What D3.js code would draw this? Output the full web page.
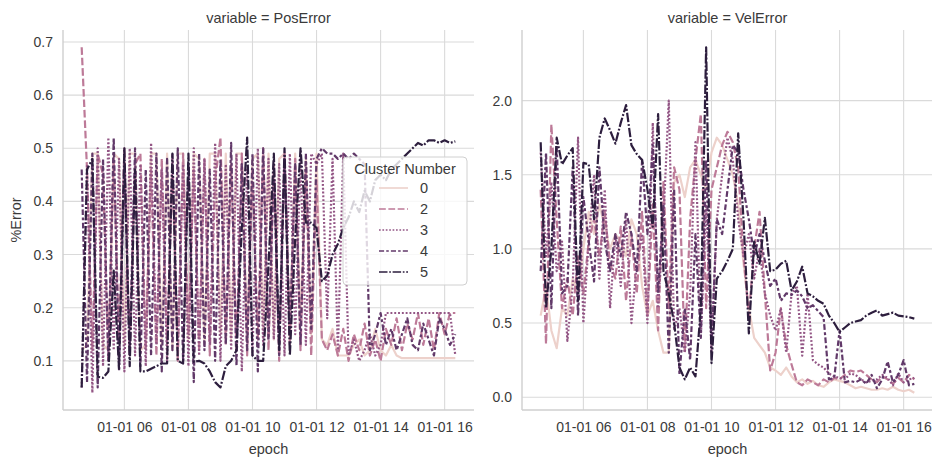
<!DOCTYPE html>
<html lang="en">
<head>
  <meta charset="utf-8">
  <script src="https://d3js.org/d3.v7.min.js"></script>
  <style>
    body { margin: 0; background: #fff; }
    text { font-family: "Liberation Sans", Arial, sans-serif; fill: #333; }
  </style>
</head>
<body>
  <div id="chart"></div>
  <script>
    var epochs = [
      "04:40","04:50","05:00","05:10","05:20","05:30","05:40","05:50","06:00","06:10",
      "06:20","06:30","06:40","06:50","07:00","07:10","07:20","07:30","07:40","07:50",
      "08:00","08:10","08:20","08:30","08:40","08:50","09:00","09:10","09:20","09:30",
      "09:40","09:50","10:00","10:10","10:20","10:30","10:40","10:50","11:00","11:10",
      "11:20","11:30","11:40","11:50","12:00","12:10","12:20","12:30","12:40","12:50",
      "13:00","13:10","13:20","13:30","13:40","13:50","14:00","14:10","14:20","14:30",
      "14:40","14:50","15:00","15:10","15:20","15:30","15:40","15:50","16:00","16:10",
      "16:20"
    ];

    var clusters = [0, 2, 3, 4, 5];
    var variables = ["PosError", "VelError"];

    // PosError per cluster
    var pos0 = [0.12,0.13,0.49,0.49,0.13,0.12,0.49,0.48,0.13,0.49,
                0.49,0.12,0.13,0.49,0.49,0.13,0.49,0.12,0.49,0.49,
                0.14,0.49,0.48,0.13,0.49,0.49,0.15,0.49,0.14,0.49,
                0.49,0.15,0.48,0.49,0.16,0.49,0.14,0.48,0.49,0.15,
                0.49,0.17,0.48,0.15,0.49,0.14,0.13,0.16,0.11,0.11,
                0.11,0.13,0.14,0.11,0.12,0.16,0.12,0.11,0.13,0.11,
                0.105,0.105,0.105,0.105,0.105,0.105,0.105,0.105,0.105,0.105,
                0.105];
    var pos2 = [0.69,0.46,0.12,0.49,0.45,0.10,0.48,0.14,0.50,0.11,
                0.47,0.49,0.12,0.46,0.11,0.48,0.13,0.47,0.10,0.49,
                0.15,0.46,0.12,0.48,0.11,0.44,0.52,0.13,0.47,0.12,
                0.49,0.11,0.46,0.14,0.50,0.12,0.47,0.10,0.49,0.13,
                0.48,0.12,0.46,0.11,0.44,0.14,0.12,0.15,0.11,0.16,
                0.10,0.15,0.12,0.17,0.11,0.14,0.10,0.16,0.13,0.18,
                0.12,0.17,0.14,0.19,0.13,0.18,0.12,0.19,0.15,0.19,
                0.19];
    var pos3 = [0.05,0.47,0.04,0.50,0.09,0.52,0.12,0.48,0.08,0.50,
                0.11,0.47,0.09,0.51,0.13,0.46,0.10,0.49,0.12,0.47,
                0.09,0.50,0.11,0.48,0.13,0.51,0.10,0.47,0.12,0.49,
                0.08,0.46,0.11,0.50,0.13,0.48,0.14,0.47,0.11,0.49,
                0.15,0.48,0.13,0.49,0.47,0.49,0.18,0.48,0.12,0.49,
                0.11,0.14,0.10,0.12,0.15,0.11,0.13,0.19,0.19,0.19,
                0.19,0.19,0.19,0.19,0.19,0.19,0.19,0.19,0.19,0.19,
                0.11];
    var pos4 = [0.46,0.06,0.49,0.05,0.48,0.10,0.52,0.08,0.47,0.12,
                0.50,0.09,0.46,0.11,0.49,0.08,0.48,0.12,0.50,0.10,
                0.47,0.06,0.49,0.12,0.46,0.10,0.48,0.13,0.51,0.09,
                0.47,0.12,0.49,0.08,0.50,0.14,0.46,0.11,0.48,0.15,
                0.47,0.13,0.49,0.16,0.48,0.50,0.49,0.49,0.48,0.49,
                0.48,0.49,0.48,0.47,0.12,0.15,0.19,0.13,0.16,0.12,
                0.15,0.18,0.13,0.12,0.17,0.14,0.11,0.18,0.16,0.13,
                0.15];
    var pos5 = [0.05,0.46,0.48,0.07,0.068,0.08,0.27,0.085,0.50,0.09,
                0.46,0.08,0.08,0.085,0.09,0.095,0.095,0.49,0.10,0.095,
                0.49,0.098,0.10,0.095,0.08,0.06,0.05,0.09,0.10,0.12,
                0.35,0.52,0.11,0.10,0.10,0.28,0.49,0.12,0.50,0.11,
                0.33,0.50,0.36,0.36,0.35,0.25,0.26,0.30,0.32,0.35,
                0.37,0.40,0.38,0.42,0.40,0.44,0.45,0.44,0.46,0.47,
                0.48,0.49,0.50,0.51,0.505,0.515,0.515,0.51,0.515,0.51,
                0.513];

    // VelError per cluster
    var vel0 = [0.55,0.75,0.45,0.33,0.60,0.55,0.80,0.70,1.00,1.25,
                1.10,1.30,1.15,1.00,1.10,1.05,0.95,1.20,1.10,0.75,
                0.55,0.65,0.45,0.30,0.30,1.45,1.50,1.35,1.55,1.60,
                1.50,1.40,1.65,1.75,1.70,1.60,1.50,1.30,0.90,0.60,
                0.40,0.35,0.30,0.20,0.18,0.15,0.20,0.14,0.10,0.12,
                0.09,0.11,0.08,0.07,0.10,0.12,0.11,0.10,0.08,0.06,
                0.07,0.06,0.05,0.05,0.06,0.05,0.07,0.05,0.04,0.05,
                0.03];
    var vel2 = [1.40,0.36,1.84,1.20,0.60,0.80,0.55,0.95,0.70,1.05,
                1.20,0.95,1.25,0.90,0.80,1.15,0.65,1.10,0.70,1.25,
                0.55,1.30,0.45,1.45,0.60,1.55,1.40,0.30,1.20,1.60,
                1.91,0.60,1.40,1.55,1.70,1.79,1.72,1.55,0.95,0.55,
                1.00,1.25,0.70,0.18,0.30,0.60,0.35,0.22,0.10,0.08,
                0.12,0.10,0.08,0.12,0.10,0.13,0.12,0.15,0.18,0.17,
                0.18,0.15,0.12,0.10,0.14,0.12,0.09,0.13,0.10,0.15,
                0.12];
    var vel3 = [1.65,0.95,1.45,0.85,1.05,0.38,0.75,1.75,0.50,1.05,
                1.50,0.80,1.40,0.60,1.10,0.75,1.20,0.50,0.90,1.10,
                0.50,1.85,0.60,1.20,2.00,0.45,0.60,0.30,0.70,1.72,
                0.40,1.30,0.30,1.20,1.50,1.75,1.60,1.20,0.95,1.10,
                0.80,1.00,0.70,0.55,0.45,0.60,0.30,0.70,0.75,0.28,
                0.70,0.25,0.22,0.20,0.16,0.14,0.13,0.12,0.16,0.15,
                0.12,0.10,0.11,0.12,0.15,0.13,0.08,0.16,0.10,0.12,
                0.13];
    var vel4 = [0.85,1.65,0.60,1.70,0.70,0.75,1.55,0.55,1.35,1.05,
                0.78,1.55,1.05,0.85,1.10,0.95,1.25,1.10,0.85,1.60,
                1.10,1.70,0.70,1.30,0.30,1.40,0.15,0.60,0.25,1.10,
                0.40,1.60,0.35,1.20,1.10,1.40,1.70,1.65,1.40,1.20,
                0.95,1.10,0.92,0.75,0.80,0.65,0.70,0.69,0.72,0.68,
                0.60,0.62,0.58,0.54,0.12,0.13,0.45,0.10,0.11,0.10,
                0.12,0.09,0.15,0.06,0.12,0.24,0.10,0.15,0.25,0.08,
                0.09];
    var vel5 = [1.72,0.60,1.00,1.75,1.57,1.63,1.68,0.65,1.58,1.57,
                1.20,1.75,1.88,1.80,1.71,1.85,1.97,1.70,1.64,1.60,
                1.40,1.15,1.91,0.85,0.70,0.50,0.20,0.12,0.20,0.14,
                0.60,2.36,0.23,0.80,0.85,0.92,1.00,1.78,1.20,0.43,
                1.05,0.90,1.21,0.85,0.86,0.90,0.92,0.72,0.78,0.88,
                0.70,0.68,0.65,0.63,0.55,0.50,0.44,0.47,0.50,0.51,
                0.52,0.55,0.57,0.585,0.55,0.56,0.57,0.55,0.545,0.54,
                0.53];

    var seriesByVar = {
      PosError: [pos0, pos2, pos3, pos4, pos5],
      VelError: [vel0, vel2, vel3, vel4, vel5]
    };

    var width = 932;
    var height = 457;
    var panelTop = 30;
    var panelBottom = 410;
    var panelLeft = [63, 522];
    var panelWidth = 411;

    // seaborn default cubehelix ramp (start 0, rot .4, hue .8, light .85, dark .15)
    function cubehelix(t) {
      var x = 0.85 + (0.15 - 0.85) * t;
      var a = 0.8 * x * (1 - x) / 2;
      var phi = 2 * Math.PI * (0.4 * x);
      var c = Math.cos(phi), s = Math.sin(phi);
      var r = x + a * (-0.14861 * c + 1.78277 * s);
      var g = x + a * (-0.29227 * c - 0.90649 * s);
      var b = x + a * (1.97294 * c);
      var clip = function (v) { return Math.round(255 * Math.max(0, Math.min(1, v))); };
      return d3.rgb(clip(r), clip(g), clip(b)).toString();
    }

    var color = d3.scaleLinear().domain([0, 5]).range([0, 1]);
    var dashUnits = { 0: null, 2: [4, 1.5], 3: [1, 1], 4: [3, 1.25, 1.5, 1.25], 5: [5, 1, 1, 1] };

    function dashFor(c, lw) {
      var d = dashUnits[c];
      if (!d) return null;
      return d.map(function (v) { return v * lw; }).join(',');
    }

    var parseTime = d3.utcParse("%Y-%m-%d %H:%M");
    var times = epochs.map(function (e) { return parseTime("1970-01-01 " + e); });

    var tExtent = d3.extent(times);
    var tPad = (tExtent[1] - tExtent[0]) * 0.05;

    var svg = d3.select('#chart')
      .append('svg')
      .attr('width', width)
      .attr('height', height);

    variables.forEach(function (variable, p) {
      var x0 = panelLeft[p];
      var series = seriesByVar[variable];

      var x = d3.scaleUtc()
        .domain([new Date(+tExtent[0] - tPad), new Date(+tExtent[1] + tPad)])
        .range([x0, x0 + panelWidth]);

      var allVals = d3.merge(series);
      var yExt = d3.extent(allVals);
      var yPad = (yExt[1] - yExt[0]) * 0.05;
      var y = d3.scaleLinear()
        .domain([yExt[0] - yPad, yExt[1] + yPad])
        .range([panelBottom, panelTop]);

      var g = svg.append('g');

      var xTicks = x.ticks(d3.utcHour.every(2));
      var yTicks = y.ticks(p === 0 ? 7 : 5);

      g.selectAll('.xgrid')
        .data(xTicks)
        .enter()
        .append('line')
        .attr('x1', function (d) { return x(d); })
        .attr('x2', function (d) { return x(d); })
        .attr('y1', panelTop)
        .attr('y2', panelBottom)
        .attr('stroke', '#dadada')
        .attr('stroke-width', 1.1);

      g.selectAll('.ygrid')
        .data(yTicks)
        .enter()
        .append('line')
        .attr('x1', x0)
        .attr('x2', x0 + panelWidth)
        .attr('y1', function (d) { return y(d); })
        .attr('y2', function (d) { return y(d); })
        .attr('stroke', '#dadada')
        .attr('stroke-width', 1.1);

      // spines
      g.append('line')
        .attr('x1', x0).attr('x2', x0)
        .attr('y1', panelTop).attr('y2', panelBottom)
        .attr('stroke', '#cfcfcf').attr('stroke-width', 1.4);
      g.append('line')
        .attr('x1', x0).attr('x2', x0 + panelWidth)
        .attr('y1', panelBottom).attr('y2', panelBottom)
        .attr('stroke', '#cfcfcf').attr('stroke-width', 1.4);

      var xAxis = d3.axisBottom(x)
        .tickValues(xTicks)
        .tickFormat(d3.utcFormat("%m-%d %H"))
        .tickSize(0)
        .tickPadding(12);
      g.append('g')
        .attr('transform', 'translate(0,' + panelBottom + ')')
        .call(xAxis)
        .call(function (a) { a.select('.domain').remove(); })
        .selectAll('text')
        .style('font-size', '14px')
        .style('fill', '#3a3a3a');

      var yAxis = d3.axisLeft(y)
        .tickValues(yTicks)
        .tickFormat(d3.format('.1f'))
        .tickSize(0)
        .tickPadding(10);
      g.append('g')
        .attr('transform', 'translate(' + x0 + ',0)')
        .call(yAxis)
        .call(function (a) { a.select('.domain').remove(); })
        .selectAll('text')
        .style('font-size', '14px')
        .style('fill', '#3a3a3a');

      var line = d3.line()
        .x(function (d) { return x(d.t); })
        .y(function (d) { return y(d.v); });

      series.forEach(function (vals, k) {
        var c = clusters[k];
        var pts = vals.map(function (v, i) { return { t: times[i], v: v }; });
        g.append('path')
          .datum(pts)
          .attr('d', line)
          .attr('fill', 'none')
          .attr('stroke', cubehelix(color(c)))
          .attr('stroke-width', 2.2)
          .attr('stroke-dasharray', dashFor(c, 1.9))
          .attr('stroke-linejoin', 'round');
      });

      g.append('text')
        .attr('x', x0 + panelWidth / 2)
        .attr('y', 23)
        .attr('text-anchor', 'middle')
        .style('font-size', '14.5px')
        .style('fill', '#3a3a3a')
        .text('variable = ' + variable);

      g.append('text')
        .attr('x', x0 + panelWidth / 2)
        .attr('y', 454)
        .attr('text-anchor', 'middle')
        .style('font-size', '14.5px')
        .style('fill', '#3a3a3a')
        .text('epoch');
    });

    svg.append('text')
      .attr('transform', 'translate(21,220) rotate(-90)')
      .attr('text-anchor', 'middle')
      .style('font-size', '14.5px')
      .style('fill', '#3a3a3a')
      .text('%Error');

    // legend
    var legend = svg.append('g').attr('transform', 'translate(343,157)');
    legend.append('rect')
      .attr('width', 124)
      .attr('height', 128)
      .attr('rx', 4)
      .attr('fill', 'white')
      .attr('fill-opacity', 0.8)
      .attr('stroke', '#d0d0d0');
    legend.append('text')
      .attr('x', 62)
      .attr('y', 17)
      .attr('text-anchor', 'middle')
      .style('font-size', '14.5px')
      .style('fill', '#3a3a3a')
      .text('Cluster Number');

    var item = legend.selectAll('.item')
      .data(clusters)
      .enter()
      .append('g')
      .attr('transform', function (d, i) { return 'translate(0,' + (31 + i * 21) + ')'; });
    item.append('line')
      .attr('x1', 36).attr('x2', 65)
      .attr('stroke', function (d) { return cubehelix(color(d)); })
      .attr('stroke-width', 1.6)
      .attr('stroke-dasharray', function (d) { return dashFor(d, 1.7); });
    item.append('text')
      .attr('x', 77)
      .attr('y', 5)
      .style('font-size', '14.5px')
      .style('fill', '#3a3a3a')
      .text(function (d) { return d; });
  </script>
</body>
</html>
